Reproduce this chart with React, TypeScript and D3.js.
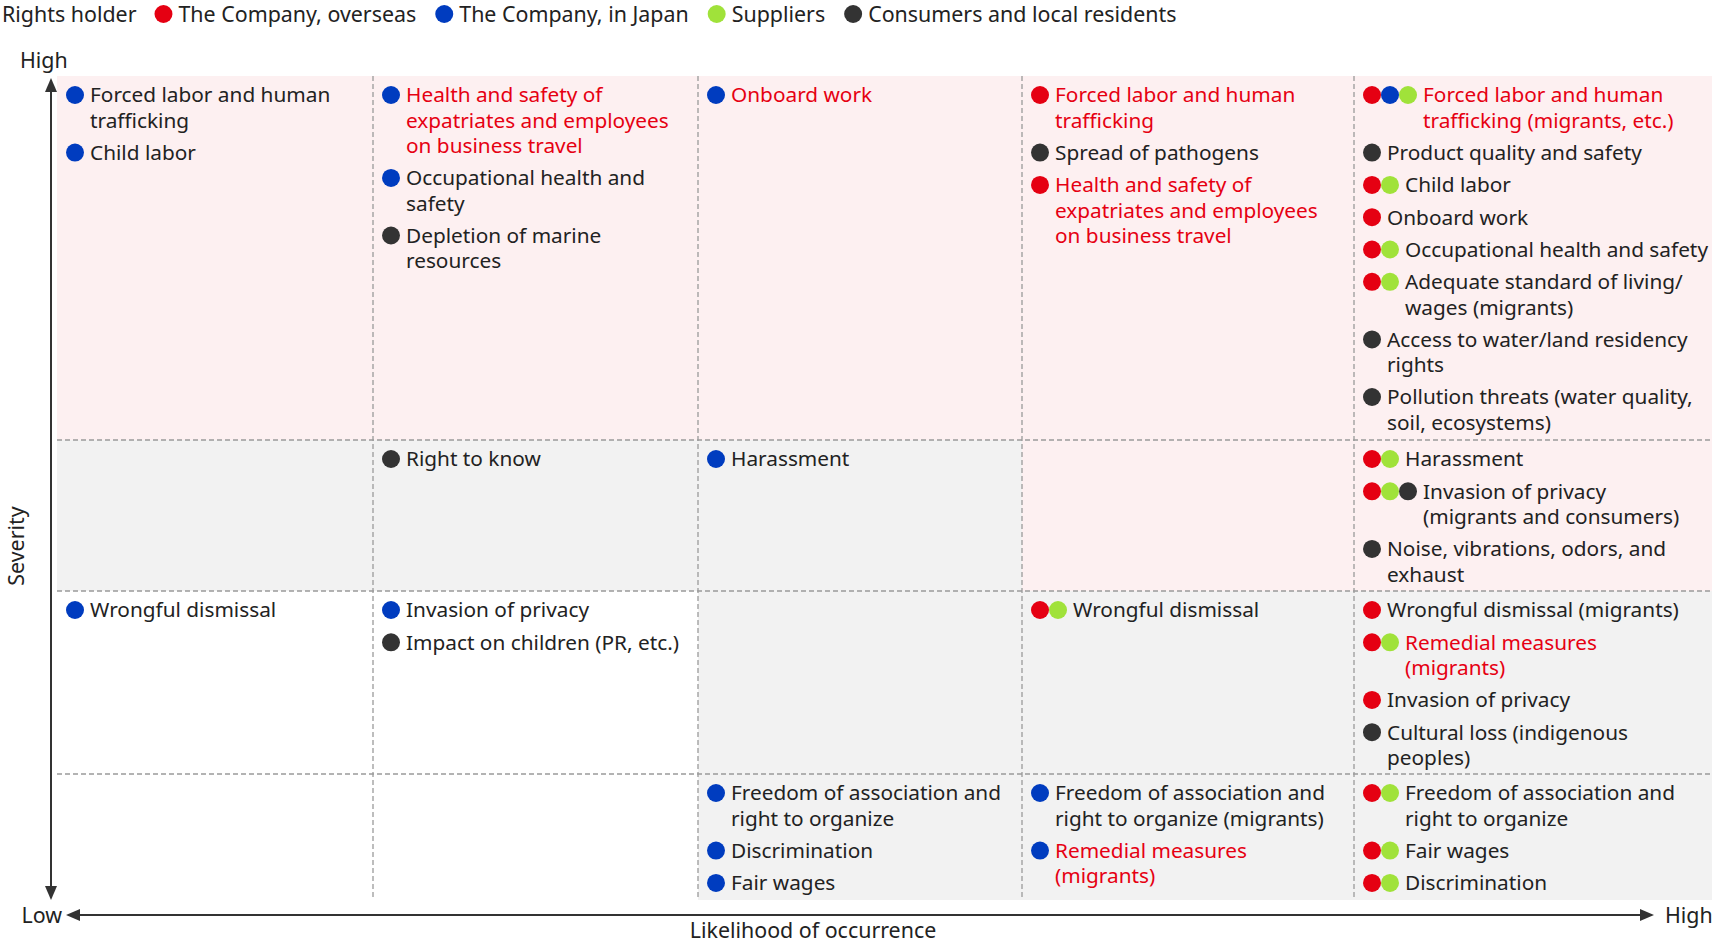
import React, { useEffect, useRef } from "react";
import * as d3 from "d3";

// Rights holders shown in the legend (code → name)
const holderCodes = ["O", "J", "S", "C"];
const holderNames = [
  "The Company, overseas",
  "The Company, in Japan",
  "Suppliers",
  "Consumers and local residents",
];

// Likelihood columns (low → high), severity rows (high → low)
const likelihoodLevels = [0, 1, 2, 3, 4];
const severityLevels = [0, 1, 2, 3];

// Risk zone of each cell, by severity row then likelihood column
const cellZones = [
  ["high", "high", "high", "high", "high"],
  ["mid", "mid", "mid", "high", "high"],
  ["low", "low", "mid", "mid", "mid"],
  ["low", "low", "mid", "mid", "mid"],
];

// Issues ("|" marks a line break as in the original layout)
const issueLabels = [
  "Forced labor and human|trafficking",
  "Child labor",
  "Health and safety of|expatriates and employees|on business travel",
  "Occupational health and|safety",
  "Depletion of marine|resources",
  "Onboard work",
  "Forced labor and human|trafficking",
  "Spread of pathogens",
  "Health and safety of|expatriates and employees|on business travel",
  "Forced labor and human|trafficking (migrants, etc.)",
  "Product quality and safety",
  "Child labor",
  "Onboard work",
  "Occupational health and safety",
  "Adequate standard of living/|wages (migrants)",
  "Access to water/land residency|rights",
  "Pollution threats (water quality,|soil, ecosystems)",
  "Right to know",
  "Harassment",
  "Harassment",
  "Invasion of privacy|(migrants and consumers)",
  "Noise, vibrations, odors, and|exhaust",
  "Wrongful dismissal",
  "Invasion of privacy",
  "Impact on children (PR, etc.)",
  "Wrongful dismissal",
  "Wrongful dismissal (migrants)",
  "Remedial measures|(migrants)",
  "Invasion of privacy",
  "Cultural loss (indigenous|peoples)",
  "Freedom of association and|right to organize",
  "Discrimination",
  "Fair wages",
  "Freedom of association and|right to organize (migrants)",
  "Remedial measures|(migrants)",
  "Freedom of association and|right to organize",
  "Fair wages",
  "Discrimination",
];
const issueLikelihood = [
  0, 0, 1, 1, 1, 2, 3, 3, 3, 4, 4, 4, 4, 4, 4, 4, 4,
  1, 2, 4, 4, 4,
  0, 1, 1, 3, 4, 4, 4, 4,
  2, 2, 2, 3, 3, 4, 4, 4,
];
const issueSeverity = [
  0, 0, 0, 0, 0, 0, 0, 0, 0, 0, 0, 0, 0, 0, 0, 0, 0,
  1, 1, 1, 1, 1,
  2, 2, 2, 2, 2, 2, 2, 2,
  3, 3, 3, 3, 3, 3, 3, 3,
];
const issueHolders = [
  "J", "J", "J", "J", "C", "J", "O", "C", "O", "OJS", "C", "OS", "O", "OS", "OS", "C", "C",
  "C", "J", "OS", "OSC", "C",
  "J", "J", "C", "OS", "O", "OS", "O", "C",
  "J", "J", "J", "J", "J", "OS", "OS", "OS",
];
const issueHighlighted = [
  false, false, true, false, false, true, true, false, true, true, false, false, false, false, false, false, false,
  false, false, false, false, false,
  false, false, false, false, false, true, false, false,
  false, false, false, false, true, false, false, false,
];

const W = 1712;
const H = 950;
const FONT = "'Noto Sans', 'Open Sans', sans-serif";
const INK = "#222";
const RED_TEXT = "#e60012";
const holderColor = d3
  .scaleOrdinal<string, string>()
  .domain(holderCodes)
  .range(["#e50012", "#003cbf", "#a0e23a", "#333333"]);
const zoneFill: Record<string, string> = {
  high: "#fdf0f1",
  mid: "#f2f2f2",
  low: "#ffffff",
};

export default function App() {
  const ref = useRef<SVGSVGElement>(null);

  useEffect(() => {
    const svg = d3.select(ref.current);
    svg.selectAll("*").remove();

    const x = d3
      .scaleLinear()
      .domain([0, 1, 2, 3, 4, 5])
      .range([57, 373, 698, 1022, 1354, W]);
    const y = d3.scaleLinear().domain([0, 1, 2, 3, 4]).range([76, 440, 591, 774, 900]);

    const fontSize = 20.8;
    const lineH = 25.3;
    const itemGap = 7;
    const r = 9;
    const dotStep = 18;

    // cell backgrounds
    const cells = svg.append("g");
    severityLevels.forEach((row) => {
      likelihoodLevels.forEach((col) => {
        cells
          .append("rect")
          .attr("x", x(col))
          .attr("y", y(row))
          .attr("width", x(col + 1) - x(col))
          .attr("height", y(row + 1) - y(row))
          .attr("fill", zoneFill[cellZones[row][col]]);
      });
    });

    // dashed dividers
    const grid = svg
      .append("g")
      .attr("stroke", "#9a9a9a")
      .attr("stroke-width", 1.3)
      .attr("stroke-dasharray", "5,3");
    likelihoodLevels.slice(1).forEach((col) => {
      grid
        .append("line")
        .attr("x1", x(col))
        .attr("x2", x(col))
        .attr("y1", y(0))
        .attr("y2", y(4));
    });
    severityLevels.slice(1).forEach((row) => {
      grid
        .append("line")
        .attr("x1", x(0))
        .attr("x2", x(5))
        .attr("y1", y(row))
        .attr("y2", y(row));
    });

    // issues
    const issues = svg.append("g").attr("font-family", FONT).attr("font-size", fontSize);
    severityLevels.forEach((row) => {
      likelihoodLevels.forEach((col) => {
        let cy = y(row) + 19;
        issueLabels.forEach((label, i) => {
          if (issueSeverity[i] !== row || issueLikelihood[i] !== col) return;
          const holders = issueHolders[i].split("");
          const x0 = x(col) + 18;
          holders.forEach((h, k) => {
            issues
              .append("circle")
              .attr("cx", x0 + k * dotStep)
              .attr("cy", cy)
              .attr("r", r)
              .attr("fill", holderColor(h));
          });
          const tx = x0 + (holders.length - 1) * dotStep + 15;
          const lines = label.split("|");
          const t = issues
            .append("text")
            .attr("fill", issueHighlighted[i] ? RED_TEXT : INK);
          lines.forEach((ln, k) => {
            t.append("tspan")
              .attr("x", tx)
              .attr("y", cy + k * lineH)
              .attr("dy", "0.36em")
              .text(ln);
          });
          cy += lines.length * lineH + itemGap;
        });
      });
    });

    // axes
    const axis = svg.append("g").attr("stroke", "#333").attr("fill", "#333");
    const ax = 51;
    axis.append("line").attr("x1", ax).attr("x2", ax).attr("y1", 88).attr("y2", 890).attr("stroke-width", 2);
    axis.append("path").attr("d", `M${ax},78 L${ax - 6},92 L${ax + 6},92 Z`).attr("stroke", "none");
    axis.append("path").attr("d", `M${ax},900 L${ax - 6},886 L${ax + 6},886 Z`).attr("stroke", "none");
    const ay = 915;
    axis.append("line").attr("x1", 76).attr("x2", 1644).attr("y1", ay).attr("y2", ay).attr("stroke-width", 2);
    axis.append("path").attr("d", `M66,${ay} L80,${ay - 6} L80,${ay + 6} Z`).attr("stroke", "none");
    axis.append("path").attr("d", `M1654,${ay} L1640,${ay - 6} L1640,${ay + 6} Z`).attr("stroke", "none");

    const labels = svg.append("g").attr("font-family", FONT).attr("font-size", 21.4).attr("fill", INK);
    labels.append("text").attr("x", 20).attr("y", 60).attr("dy", "0.36em").text("High");
    labels.append("text").attr("x", 62).attr("y", 915).attr("dy", "0.36em").attr("text-anchor", "end").text("Low");
    labels.append("text").attr("x", 1665).attr("y", 915).attr("dy", "0.36em").text("High");
    labels
      .append("text")
      .attr("x", 813)
      .attr("y", 930)
      .attr("dy", "0.36em")
      .attr("text-anchor", "middle")
      .text("Likelihood of occurrence");
    labels
      .append("text")
      .attr("transform", "translate(16,546) rotate(-90)")
      .attr("dy", "0.36em")
      .attr("text-anchor", "middle")
      .text("Severity");

    // legend
    const legend = svg.append("g").attr("font-family", FONT).attr("font-size", 21.4).attr("fill", INK);
    const ly = 14;
    const title = legend.append("text").attr("x", 2).attr("y", ly).attr("dy", "0.36em").text("Rights holder");
    let lx = 2 + (title.node() as SVGTextElement).getComputedTextLength() + 27;
    holderCodes.forEach((code, i) => {
      legend.append("circle").attr("cx", lx).attr("cy", ly).attr("r", r).attr("fill", holderColor(code));
      const t = legend
        .append("text")
        .attr("x", lx + 15)
        .attr("y", ly)
        .attr("dy", "0.36em")
        .text(holderNames[i]);
      lx += 15 + (t.node() as SVGTextElement).getComputedTextLength() + 28;
    });
  }, []);

  return (
    <svg
      ref={ref}
      width={W}
      height={H}
      style={{ position: "absolute", left: 0, top: 0, background: "#fff" }}
    />
  );
}
